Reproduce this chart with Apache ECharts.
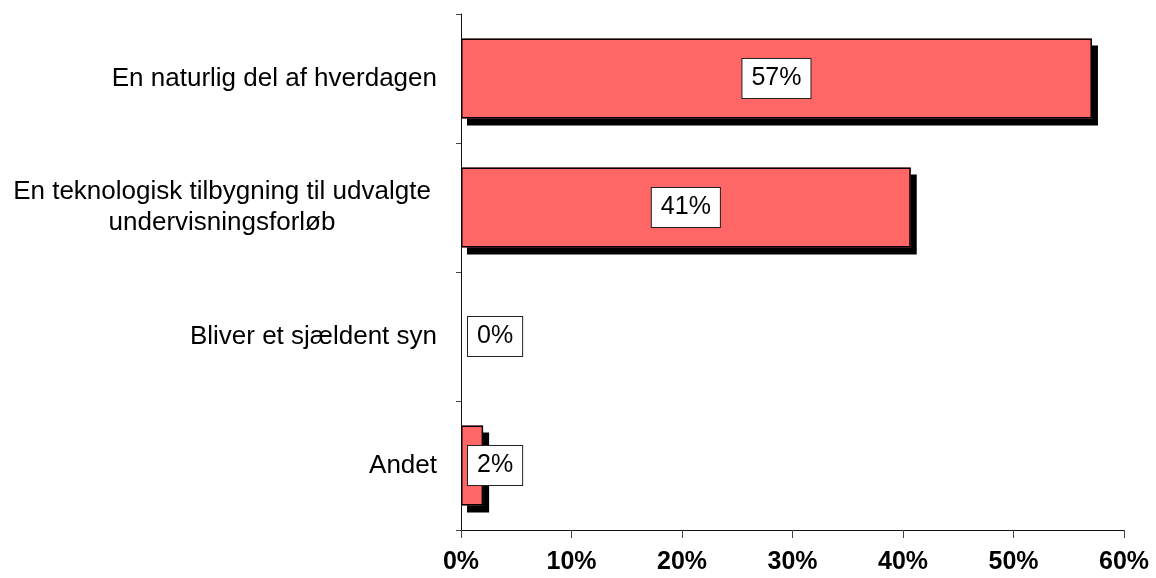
<!DOCTYPE html>
<html>
<head>
<meta charset="utf-8">
<script src="https://cdn.jsdelivr.net/npm/echarts@6/dist/echarts.min.js"></script>
<style>
html,body{margin:0;padding:0;background:#fff;}
#c{width:1156px;height:578px;}
</style>
</head>
<body>
<div id="c"></div>
<script>
const categories = [
  'En naturlig del af hverdagen',
  'En teknologisk tilbygning til udvalgte\nundervisningsforløb',
  'Bliver et sjældent syn',
  'Andet'
];
const values = [57.1, 40.7, 0, 2.0];
const axisMin = 0, axisMax = 60, axisStep = 10;

const FONT = '"Liberation Sans", Arial, sans-serif';
const chart = echarts.init(document.getElementById('c'), null, {renderer: 'canvas'});

const fillData = values.slice();
const outlineData = values.map(v => ({
  value: v,
  itemStyle: v > 0 ? {} : {borderWidth: 0},
  label: v < 5 ? {position: 'insideLeft', distance: 7} : {position: 'inside'}
}));

chart.setOption({
  animation: false,
  backgroundColor: '#fff',
  grid: {left: 461, right: 32, top: 14, bottom: 48, containLabel: false},
  xAxis: {
    type: 'value',
    min: axisMin, max: axisMax, interval: axisStep,
    axisLine: {show: true, lineStyle: {color: '#111', width: 1}},
    axisTick: {show: true, length: 8, lineStyle: {color: '#444'}},
    splitLine: {show: false},
    axisLabel: {
      formatter: '{value}%', color: '#000', fontWeight: 'bold',
      fontSize: 25, fontFamily: FONT, margin: 20
    }
  },
  yAxis: {
    type: 'category',
    inverse: true,
    data: categories,
    axisLine: {show: true, lineStyle: {color: '#111', width: 1}},
    axisTick: {show: true, length: 5, lineStyle: {color: '#444'}},
    axisLabel: {
      color: '#000', fontSize: 26, fontFamily: FONT, margin: 24,
      lineHeight: 31,
      formatter: function (val) {
        if (val.indexOf('\n') >= 0) {
          return val.split('\n').map(s => '{c|' + s + '}').join('\n');
        }
        return val;
      },
      rich: {
        c: {width: 430, align: 'center', fontSize: 26, fontFamily: FONT, color: '#000', lineHeight: 31}
      }
    }
  },
  series: [{
    type: 'bar',
    name: 'fill',
    data: fillData,
    barWidth: 80,
    barGap: '-100%',
    z: 2,
    silent: true,
    itemStyle: {
      color: '#FF6666',
      borderWidth: 0,
      shadowColor: '#000',
      shadowBlur: 0,
      shadowOffsetX: 6,
      shadowOffsetY: 7
    },
    label: {show: false}
  }, {
    type: 'bar',
    name: 'outline',
    data: outlineData,
    barWidth: 80,
    barGap: '-100%',
    z: 3,
    itemStyle: {
      color: 'rgba(0,0,0,0)',
      borderColor: '#000',
      borderWidth: 1.5
    },
    label: {
      show: true,
      formatter: p => Math.round(p.value) + '%',
      color: '#000',
      fontSize: 25,
      fontFamily: FONT,
      backgroundColor: '#fff',
      borderColor: '#222',
      borderWidth: 1,
      padding: [6, 9, 6, 9],
      lineHeight: 27
    }
  }]
});
</script>
</body>
</html>
